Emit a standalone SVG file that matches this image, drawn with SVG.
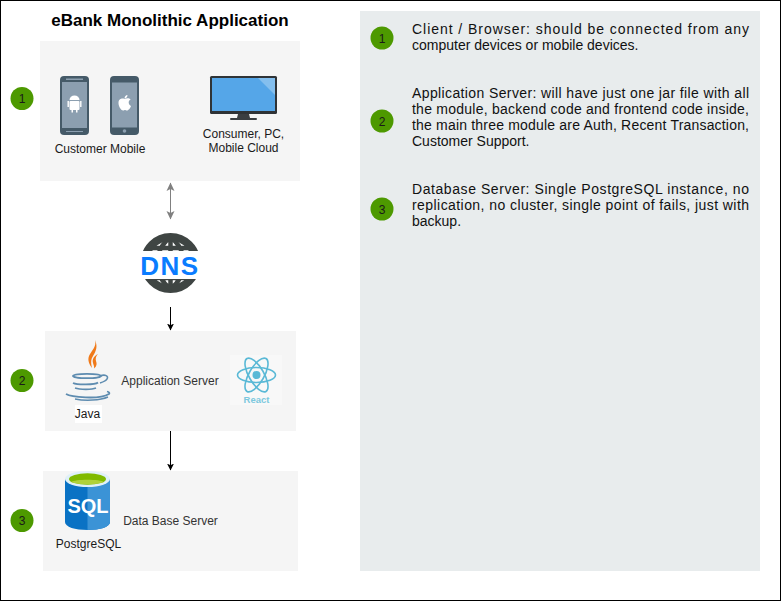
<svg xmlns="http://www.w3.org/2000/svg" width="781" height="601" viewBox="0 0 781 601">
<style>
text{font-family:"Liberation Sans",Arial,sans-serif;font-size:12px;fill:#1a1a1a}
.p{fill:#f5f5f5}
.b{fill:#4d9900}
.n{text-anchor:middle;fill:#1a1a1a}
.s{font-size:14px;fill:#111}
.g{fill:#333;text-anchor:middle}
.c{fill:none;stroke:#000;stroke-width:1}
.w{fill:none;stroke:#5ab9d6;stroke-width:1.6}
</style>
<defs>
<marker id="a" markerWidth="8" markerHeight="8" refX="6.5" refY="4" orient="auto" markerUnits="userSpaceOnUse"><path d="M0 .5L7 4L0 7.5L1.7 4Z" fill="#000"/></marker>
<marker id="g" markerWidth="10" markerHeight="10" refX="8" refY="5" orient="auto-start-reverse" markerUnits="userSpaceOnUse"><path d="M0 1L8.5 5L0 9L2 5Z" fill="#808080"/></marker>
</defs>
<rect x="0.5" y="0.5" width="780" height="600" fill="#fff" stroke="#000"/>
<text x="170" y="26" text-anchor="middle" style="font-size:17px;font-weight:bold;fill:#000">eBank Monolithic Application</text>
<rect x="360" y="11" width="400" height="560" fill="#e8eced"/>
<g id="client-panel">
<rect class="p" x="40" y="41" width="260" height="140"/>
<g id="android"><rect x="60" y="76" width="29" height="59" rx="4" fill="#455a68"/><rect x="62" y="82" width="25" height="46" fill="#8c9fb0"/><rect x="66" y="78.500" width="17" height="1.500" fill="#8c9fb0"/><rect x="66" y="131" width="17" height="1" fill="#8c9fb0"/><rect x="69.500" y="101" width="10" height="9" rx="1" fill="#fff"/><path d="M69.500 100a5 4.500 0 0 1 10 0Z" fill="#fff"/><rect x="67.500" y="101" width="1.400" height="6" fill="#fff"/><rect x="80.100" y="101" width="1.400" height="6" fill="#fff"/><rect x="71.500" y="109" width="1.500" height="3.500" fill="#fff"/><rect x="76" y="109" width="1.500" height="3.500" fill="#fff"/></g>
<g id="iphone"><rect x="110" y="76" width="29" height="59" rx="4" fill="#455a68"/><rect x="112" y="82.500" width="25" height="45" fill="#8c9fb0"/><circle cx="124.500" cy="131" r="1.800" fill="#8c9fb0"/><path d="M124.500 99c-2-1-6-.5-6 4c0 4 3 7.500 4.500 7.500c1 0 1.500-.5 2-.5s1 .5 2 .5c1.500 0 3.500-2.500 4-4.500c-3-1.500-3-5.500-.3-6.500c-1.500-1.500-4-1.500-6.200-.5Z" fill="#fff"/><path d="M124.500 98.500c0-2 1.500-3.500 3-3.500c0 2-1.500 3.500-3 3.500Z" fill="#fff"/></g>
<text class="n" x="100" y="153">Customer Mobile</text>
<g id="monitor"><rect x="210" y="76" width="67" height="38" rx="1.500" fill="#2f3336"/><rect x="212" y="78" width="63" height="33" fill="#55a6e8"/><path d="M258 78h17v17Z" fill="#84bfee"/><path d="M238 114h11l1 4h-13Z" fill="#3a3e41"/><rect x="230" y="118" width="27" height="2" rx="1" fill="#3a3e41"/></g>
<text class="n" x="243.500" y="138">Consumer, PC,</text>
<text class="n" x="243.500" y="152">Mobile Cloud</text>
</g>
<g id="app-panel">
<rect class="p" x="45" y="331" width="251" height="100"/>
<g id="java"><path d="M95 340c2 7-4 11-6 16c-1.500 4 0 8 3 12c-1-5-1.500-8 1-12c3-5 5-9 2-16Z" fill="#f07a1a"/><path d="M98 354c-4 2-6 5-5 9c.5 2 1.500 3.500 1 5.500c3-2.500 3-5 2-7.500c-.7-2.500 0-5 2-7Z" fill="#f07a1a"/><g fill="none" stroke="#5e8cb0"><ellipse cx="87" cy="376" rx="14" ry="2.200" stroke-width="1.800"/><path d="M73 383c4 2 22 2 25-.5" stroke-width="1.800"/><path d="M75 388c5 1.800 17 1.800 21 0" stroke-width="1.600"/><path d="M66 394c5 3 33 6 43 0c1-1 0-2-2-2.500" stroke-width="1.800"/><path d="M75 399c10 2 25 1.500 33-2" stroke-width="1.400"/><path d="M100 376c5-2 9 0 7 3c-1 2-4 3-7 4" stroke-width="1.600"/></g></g>
<rect x="75" y="405" width="27" height="18" fill="#fff"/>
<text class="n" x="87.500" y="418">Java</text>
<text class="g" x="170" y="385">Application Server</text>
<g id="react"><rect x="230" y="355" width="52" height="50" fill="#f8f8f8"/><circle cx="256.500" cy="375" r="4" fill="#5ab9d6"/><ellipse class="w" cx="256.500" cy="375" rx="19" ry="7.500"/><ellipse class="w" cx="256.500" cy="375" rx="19" ry="7.500" transform="rotate(60 256.500 375)"/><ellipse class="w" cx="256.500" cy="375" rx="19" ry="7.500" transform="rotate(120 256.500 375)"/><text x="256.500" y="403" text-anchor="middle" style="font-size:9.500px;font-weight:bold;fill:#7cc8de">React</text></g>
</g>
<g id="db-panel">
<rect class="p" x="43" y="471" width="255" height="100"/>
<g id="sql"><path d="M65 479v43c0 5 10 8 22.500 8s22.500-3 22.500-8v-43Z" fill="#0a72c4"/><path d="M87.500 484v46c12.500 0 22.500-3 22.500-8v-43Z" fill="#3b93d6"/><ellipse cx="87.500" cy="479" rx="22.500" ry="8" fill="#dff0f8"/><ellipse cx="87.500" cy="479" rx="18.500" ry="5.800" fill="#7fba00"/><path d="M71 482c4-3 29-3 33 0c-6 3-27 3-33 0Z" fill="#b0d13a"/><text x="88" y="513" text-anchor="middle" style="font-size:20px;font-weight:bold;fill:#fff">SQL</text></g>
<text class="n" x="88.500" y="548">PostgreSQL</text>
<text class="g" x="170.500" y="525">Data Base Server</text>
</g>
<g id="dns"><circle cx="170.500" cy="263" r="26" fill="none" stroke="#3f4543" stroke-width="8" stroke-dasharray="0"/><path d="M170.500 237c-9 7-13 16-13 26s4 19 13 26M170.500 237c9 7 13 16 13 26s-4 19-13 26M170.500 237v52M149 248h43M149 278h43" fill="none" stroke="#3f4543" stroke-width="4.500"/><rect x="138" y="251" width="65" height="28" fill="#fff"/><text x="170" y="275" text-anchor="middle" style="font-size:26px;font-weight:bold;fill:#0a7cff;letter-spacing:1.500px">DNS</text></g>
<g id="badges">
<circle class="b" cx="22" cy="98.500" r="11.500"/><text class="n" x="22" y="103">1</text>
<circle class="b" cx="22" cy="380.500" r="11.500"/><text class="n" x="22" y="385">2</text>
<circle class="b" cx="22" cy="520.500" r="11.500"/><text class="n" x="22" y="525">3</text>
<circle class="b" cx="382" cy="38" r="11.500"/><text class="n" x="382" y="42.500">1</text>
<circle class="b" cx="382" cy="121" r="11.500"/><text class="n" x="382" y="125.500">2</text>
<circle class="b" cx="382" cy="209" r="11.500"/><text class="n" x="382" y="213.500">3</text>
</g>
<g id="notes" class="notes">
<text class="s" x="412" y="34" textLength="337" lengthAdjust="spacing">Client / Browser: should be connected from any</text>
<text class="s" x="412" y="50">computer devices or mobile devices.</text>
<text class="s" x="412" y="98" textLength="337" lengthAdjust="spacing">Application Server: will have just one jar file with all</text>
<text class="s" x="412" y="114" textLength="337" lengthAdjust="spacing">the module,  backend code and frontend code inside,</text>
<text class="s" x="412" y="130" textLength="337" lengthAdjust="spacing">the main three module are Auth, Recent Transaction,</text>
<text class="s" x="412" y="146">Customer Support.</text>
<text class="s" x="412" y="194" textLength="337" lengthAdjust="spacing">Database Server: Single PostgreSQL instance, no</text>
<text class="s" x="412" y="210" textLength="337" lengthAdjust="spacing">replication, no cluster, single point of fails, just with</text>
<text class="s" x="412" y="226">backup.</text>
</g>
<g id="connectors">
<path d="M170.500 183V219" fill="none" stroke="#808080" marker-start="url(#g)" marker-end="url(#g)"/>
<path class="c" d="M170.500 307V330" marker-end="url(#a)"/>
<path class="c" d="M170.500 431V470" marker-end="url(#a)"/>
</g>
</svg>
